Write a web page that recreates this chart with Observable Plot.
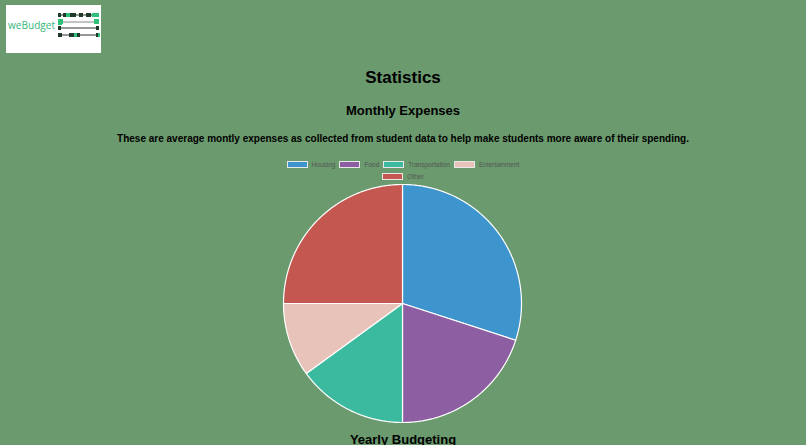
<!DOCTYPE html>
<html>
<head>
<meta charset="utf-8">
<script src="https://cdn.jsdelivr.net/npm/d3@7"></script>
<script src="https://cdn.jsdelivr.net/npm/@observablehq/plot@0.6"></script>
<style>
  html, body { margin: 0; padding: 0; }
  body { width: 806px; height: 445px; overflow: hidden; background: #6a9a6d; font-family: "Liberation Sans", Arial, Helvetica, sans-serif; position: relative; }
  .abs { position: absolute; left: 0; width: 806px; text-align: center; color: #000; font-weight: bold; white-space: nowrap; }
  #logo { position: absolute; left: 6px; top: 5px; width: 95px; height: 48px; background: #fff; }
  #legend { position: absolute; left: 0; width: 806px; top: 158px; font-size: 6.5px; color: #555; }
  .lrow { display: flex; justify-content: center; align-items: center; height: 12px; }
  .item { display: flex; align-items: center; margin: 0 2px; }
  .sw { width: 19px; height: 5px; border: 1px solid #e8e8e8; margin-right: 4px; }
  #chart { position: absolute; left: 0; top: 180px; }
</style>
</head>
<body>
<div id="logo">
  <svg width="95" height="48">
    <text x="2" y="24" font-family="'Open Sans', sans-serif" font-size="11.5" textLength="47" lengthAdjust="spacingAndGlyphs" fill="#35b87a">weBudget</text>
    <g stroke="#333" stroke-width="1">
      <line x1="53" y1="10" x2="92" y2="10"/>
      <line x1="53" y1="17" x2="92" y2="17" stroke="#888"/>
      <line x1="53" y1="23" x2="92" y2="23"/>
      <line x1="53" y1="30" x2="92" y2="30"/>
    </g>
    <g fill="#1f3a2a">
      <rect x="52" y="8" width="3" height="4"/><rect x="57" y="8" width="13" height="4"/>
      <rect x="73" y="8" width="4" height="4"/><rect x="80" y="8" width="5" height="4"/>
      <rect x="52" y="21" width="3" height="4"/><rect x="90" y="21" width="3" height="4"/>
      <rect x="52" y="28" width="4" height="4"/><rect x="63" y="28" width="11" height="4"/>
      <rect x="90" y="28" width="2" height="4"/>
    </g>
    <g fill="#2fc07a">
      <rect x="60" y="8" width="4" height="4"/><rect x="86" y="8" width="7" height="4"/>
      <rect x="52" y="14" width="5" height="5"/><rect x="88" y="14" width="5" height="5"/>
      <rect x="52" y="18" width="4" height="2"/>
      <rect x="68" y="28" width="3" height="4"/><rect x="92" y="28" width="2" height="4"/>
    </g>
  </svg>
</div>
<div class="abs" style="top:68px;font-size:17px;line-height:20px;">Statistics</div>
<div class="abs" style="top:103px;font-size:13px;line-height:16px;">Monthly Expenses</div>
<div class="abs" style="top:133px;font-size:10px;line-height:12px;">These are average montly expenses as collected from student data to help make students more aware of their spending.</div>
<div id="legend"></div>
<div id="chart"></div>
<div class="abs" style="top:432px;font-size:13px;line-height:16px;">Yearly Budgeting</div>
<script>
const categories = ["Housing", "Food", "Transportation", "Entertainment", "Other"];
const expenses = [30, 20, 15, 10, 25];
const colors = ["#3e95cd", "#8e5ea2", "#3cba9f", "#e8c3b9", "#c45850"];

// legend
const legend = document.getElementById("legend");
const rows = [categories.slice(0, 4), categories.slice(4)];
rows.forEach(r => {
  const row = document.createElement("div");
  row.className = "lrow";
  r.forEach(c => {
    const it = document.createElement("div");
    it.className = "item";
    const sw = document.createElement("div");
    sw.className = "sw";
    sw.style.background = colors[categories.indexOf(c)];
    const t = document.createElement("span");
    t.textContent = c;
    it.appendChild(sw); it.appendChild(t);
    row.appendChild(it);
  });
  legend.appendChild(row);
});

// pie slices as polygons in a unit coordinate space
const pie = d3.pie().sort(null).value(d => d.value);
const arcs = pie(categories.map((c, i) => ({category: c, value: expenses[i]})));
const pts = [];
arcs.forEach(a => {
  const c = a.data.category;
  pts.push({category: c, x: 0, y: 0});
  const n = Math.max(2, Math.ceil((a.endAngle - a.startAngle) / 0.01));
  for (let k = 0; k <= n; k++) {
    const t = a.startAngle + (a.endAngle - a.startAngle) * k / n;
    pts.push({category: c, x: Math.sin(t), y: Math.cos(t)});
  }
  pts.push({category: c, x: 0, y: 0});
});

const R = 119, cx = 402, cy = 123;
const plot = Plot.plot({
  width: 806,
  height: 250,
  margin: 0,
  x: {domain: [-1, 1], range: [cx - R, cx + R], axis: null},
  y: {domain: [-1, 1], range: [cy + R, cy - R], axis: null},
  color: {domain: categories, range: colors},
  style: {background: "transparent", overflow: "visible"},
  marks: [
    Plot.line(pts, {x: "x", y: "y", z: "category", fill: "category", stroke: "#ffffff", strokeWidth: 1.2, curve: "linear"})
  ]
});
document.getElementById("chart").appendChild(plot);
</script>
</body>
</html>
